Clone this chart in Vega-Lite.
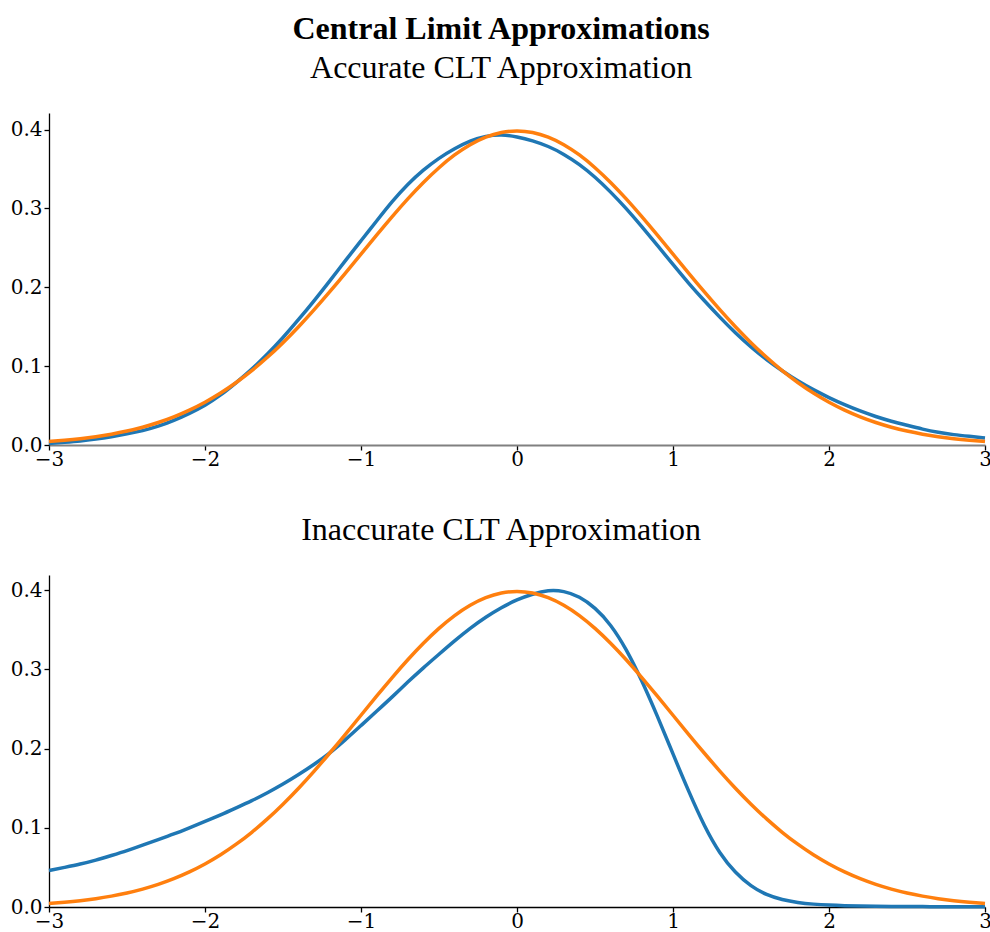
{
  "$schema": "https://vega.github.io/schema/vega-lite/v6.json",
  "background": "white",
  "padding": {"left": 10, "top": 13, "right": 0, "bottom": 0},
  "title": {"text": "Central Limit Approximations", "font": "Liberation Serif", "fontSize": 32, "fontWeight": "bold", "color": "black", "anchor": "middle", "baseline": "alphabetic", "offset": -19},
  "spacing": 45,
  "config": {
    "view": {"stroke": null},
    "axis": {"labelFont": "DejaVu Serif", "labelFontSize": 20, "labelColor": "black", "domainColor": "black", "tickColor": "black", "grid": false, "tickSize": 5, "labelPadding": 2, "domainWidth": 1.3, "tickWidth": 1.3, "labelFlush": false, "labelOverlap": false},
    "axisX": {"labelPadding": -1},
    "title": {"font": "Liberation Serif", "fontSize": 32, "fontWeight": "normal", "color": "black", "baseline": "alphabetic", "offset": 28, "anchor": "middle", "frame": "bounds"}
  },
  "datasets": {
    "top": [
      {"x": -3.0, "s": "approx", "y": 0.002}, {"x": -2.9, "s": "approx", "y": 0.0035}, {"x": -2.8, "s": "approx", "y": 0.005}, {"x": -2.7, "s": "approx", "y": 0.0075}, {"x": -2.6, "s": "approx", "y": 0.0105},
      {"x": -2.5, "s": "approx", "y": 0.014}, {"x": -2.4, "s": "approx", "y": 0.018}, {"x": -2.3, "s": "approx", "y": 0.0235}, {"x": -2.2, "s": "approx", "y": 0.031}, {"x": -2.1, "s": "approx", "y": 0.040},
      {"x": -2.0, "s": "approx", "y": 0.050}, {"x": -1.9, "s": "approx", "y": 0.063}, {"x": -1.8, "s": "approx", "y": 0.079}, {"x": -1.7, "s": "approx", "y": 0.096}, {"x": -1.6, "s": "approx", "y": 0.115},
      {"x": -1.5, "s": "approx", "y": 0.136}, {"x": -1.4, "s": "approx", "y": 0.159}, {"x": -1.3, "s": "approx", "y": 0.183}, {"x": -1.2, "s": "approx", "y": 0.208}, {"x": -1.1, "s": "approx", "y": 0.234},
      {"x": -1.0, "s": "approx", "y": 0.259}, {"x": -0.9, "s": "approx", "y": 0.284}, {"x": -0.8, "s": "approx", "y": 0.309}, {"x": -0.7, "s": "approx", "y": 0.331}, {"x": -0.6, "s": "approx", "y": 0.349},
      {"x": -0.5, "s": "approx", "y": 0.364}, {"x": -0.4, "s": "approx", "y": 0.376}, {"x": -0.3, "s": "approx", "y": 0.386}, {"x": -0.2, "s": "approx", "y": 0.392}, {"x": -0.1, "s": "approx", "y": 0.394},
      {"x": 0.0, "s": "approx", "y": 0.391}, {"x": 0.1, "s": "approx", "y": 0.386}, {"x": 0.2, "s": "approx", "y": 0.379}, {"x": 0.3, "s": "approx", "y": 0.369}, {"x": 0.4, "s": "approx", "y": 0.356},
      {"x": 0.5, "s": "approx", "y": 0.340}, {"x": 0.6, "s": "approx", "y": 0.321}, {"x": 0.7, "s": "approx", "y": 0.300}, {"x": 0.8, "s": "approx", "y": 0.277}, {"x": 0.9, "s": "approx", "y": 0.253},
      {"x": 1.0, "s": "approx", "y": 0.229}, {"x": 1.1, "s": "approx", "y": 0.205}, {"x": 1.2, "s": "approx", "y": 0.183}, {"x": 1.3, "s": "approx", "y": 0.162}, {"x": 1.4, "s": "approx", "y": 0.142},
      {"x": 1.5, "s": "approx", "y": 0.124}, {"x": 1.6, "s": "approx", "y": 0.108}, {"x": 1.7, "s": "approx", "y": 0.094}, {"x": 1.8, "s": "approx", "y": 0.081}, {"x": 1.9, "s": "approx", "y": 0.070},
      {"x": 2.0, "s": "approx", "y": 0.060}, {"x": 2.1, "s": "approx", "y": 0.051}, {"x": 2.2, "s": "approx", "y": 0.043}, {"x": 2.3, "s": "approx", "y": 0.036}, {"x": 2.4, "s": "approx", "y": 0.030},
      {"x": 2.5, "s": "approx", "y": 0.025}, {"x": 2.6, "s": "approx", "y": 0.020}, {"x": 2.7, "s": "approx", "y": 0.016}, {"x": 2.8, "s": "approx", "y": 0.013}, {"x": 2.9, "s": "approx", "y": 0.011},
      {"x": 3.0, "s": "approx", "y": 0.009},
      {"x": -3.0, "s": "normal", "y": 0.0044}, {"x": -2.9, "s": "normal", "y": 0.0060}, {"x": -2.8, "s": "normal", "y": 0.0079}, {"x": -2.7, "s": "normal", "y": 0.0104}, {"x": -2.6, "s": "normal", "y": 0.0136},
      {"x": -2.5, "s": "normal", "y": 0.0175}, {"x": -2.4, "s": "normal", "y": 0.0224}, {"x": -2.3, "s": "normal", "y": 0.0283}, {"x": -2.2, "s": "normal", "y": 0.0355}, {"x": -2.1, "s": "normal", "y": 0.0440},
      {"x": -2.0, "s": "normal", "y": 0.0540}, {"x": -1.9, "s": "normal", "y": 0.0656}, {"x": -1.8, "s": "normal", "y": 0.0790}, {"x": -1.7, "s": "normal", "y": 0.0940}, {"x": -1.6, "s": "normal", "y": 0.1109},
      {"x": -1.5, "s": "normal", "y": 0.1295}, {"x": -1.4, "s": "normal", "y": 0.1497}, {"x": -1.3, "s": "normal", "y": 0.1714}, {"x": -1.2, "s": "normal", "y": 0.1942}, {"x": -1.1, "s": "normal", "y": 0.2179},
      {"x": -1.0, "s": "normal", "y": 0.2420}, {"x": -0.9, "s": "normal", "y": 0.2661}, {"x": -0.8, "s": "normal", "y": 0.2897}, {"x": -0.7, "s": "normal", "y": 0.3123}, {"x": -0.6, "s": "normal", "y": 0.3332},
      {"x": -0.5, "s": "normal", "y": 0.3521}, {"x": -0.4, "s": "normal", "y": 0.3683}, {"x": -0.3, "s": "normal", "y": 0.3814}, {"x": -0.2, "s": "normal", "y": 0.3910}, {"x": -0.1, "s": "normal", "y": 0.3970},
      {"x": 0.0, "s": "normal", "y": 0.3989}, {"x": 0.1, "s": "normal", "y": 0.3970}, {"x": 0.2, "s": "normal", "y": 0.3910}, {"x": 0.3, "s": "normal", "y": 0.3814}, {"x": 0.4, "s": "normal", "y": 0.3683},
      {"x": 0.5, "s": "normal", "y": 0.3521}, {"x": 0.6, "s": "normal", "y": 0.3332}, {"x": 0.7, "s": "normal", "y": 0.3123}, {"x": 0.8, "s": "normal", "y": 0.2897}, {"x": 0.9, "s": "normal", "y": 0.2661},
      {"x": 1.0, "s": "normal", "y": 0.2420}, {"x": 1.1, "s": "normal", "y": 0.2179}, {"x": 1.2, "s": "normal", "y": 0.1942}, {"x": 1.3, "s": "normal", "y": 0.1714}, {"x": 1.4, "s": "normal", "y": 0.1497},
      {"x": 1.5, "s": "normal", "y": 0.1295}, {"x": 1.6, "s": "normal", "y": 0.1109}, {"x": 1.7, "s": "normal", "y": 0.0940}, {"x": 1.8, "s": "normal", "y": 0.0790}, {"x": 1.9, "s": "normal", "y": 0.0656},
      {"x": 2.0, "s": "normal", "y": 0.0540}, {"x": 2.1, "s": "normal", "y": 0.0440}, {"x": 2.2, "s": "normal", "y": 0.0355}, {"x": 2.3, "s": "normal", "y": 0.0283}, {"x": 2.4, "s": "normal", "y": 0.0224},
      {"x": 2.5, "s": "normal", "y": 0.0175}, {"x": 2.6, "s": "normal", "y": 0.0136}, {"x": 2.7, "s": "normal", "y": 0.0104}, {"x": 2.8, "s": "normal", "y": 0.0079}, {"x": 2.9, "s": "normal", "y": 0.0060},
      {"x": 3.0, "s": "normal", "y": 0.0044}
    ],
    "bottom": [
      {"x": -3.0, "s": "approx", "y": 0.046}, {"x": -2.9, "s": "approx", "y": 0.050}, {"x": -2.8, "s": "approx", "y": 0.054}, {"x": -2.7, "s": "approx", "y": 0.059}, {"x": -2.6, "s": "approx", "y": 0.065},
      {"x": -2.5, "s": "approx", "y": 0.071}, {"x": -2.4, "s": "approx", "y": 0.078}, {"x": -2.3, "s": "approx", "y": 0.085}, {"x": -2.2, "s": "approx", "y": 0.092}, {"x": -2.1, "s": "approx", "y": 0.100},
      {"x": -2.0, "s": "approx", "y": 0.108}, {"x": -1.9, "s": "approx", "y": 0.116}, {"x": -1.8, "s": "approx", "y": 0.125}, {"x": -1.7, "s": "approx", "y": 0.134}, {"x": -1.6, "s": "approx", "y": 0.144},
      {"x": -1.5, "s": "approx", "y": 0.155}, {"x": -1.4, "s": "approx", "y": 0.167}, {"x": -1.3, "s": "approx", "y": 0.180}, {"x": -1.2, "s": "approx", "y": 0.194}, {"x": -1.1, "s": "approx", "y": 0.211},
      {"x": -1.0, "s": "approx", "y": 0.229}, {"x": -0.9, "s": "approx", "y": 0.247}, {"x": -0.8, "s": "approx", "y": 0.265}, {"x": -0.7, "s": "approx", "y": 0.284}, {"x": -0.6, "s": "approx", "y": 0.302},
      {"x": -0.5, "s": "approx", "y": 0.319}, {"x": -0.4, "s": "approx", "y": 0.336}, {"x": -0.3, "s": "approx", "y": 0.352}, {"x": -0.2, "s": "approx", "y": 0.366}, {"x": -0.1, "s": "approx", "y": 0.378},
      {"x": 0.0, "s": "approx", "y": 0.388}, {"x": 0.1, "s": "approx", "y": 0.395}, {"x": 0.2, "s": "approx", "y": 0.400}, {"x": 0.3, "s": "approx", "y": 0.399}, {"x": 0.4, "s": "approx", "y": 0.392},
      {"x": 0.5, "s": "approx", "y": 0.378}, {"x": 0.6, "s": "approx", "y": 0.357}, {"x": 0.7, "s": "approx", "y": 0.326}, {"x": 0.8, "s": "approx", "y": 0.286}, {"x": 0.9, "s": "approx", "y": 0.241},
      {"x": 1.0, "s": "approx", "y": 0.193}, {"x": 1.1, "s": "approx", "y": 0.146}, {"x": 1.2, "s": "approx", "y": 0.102}, {"x": 1.3, "s": "approx", "y": 0.067}, {"x": 1.4, "s": "approx", "y": 0.043},
      {"x": 1.5, "s": "approx", "y": 0.026}, {"x": 1.6, "s": "approx", "y": 0.015}, {"x": 1.7, "s": "approx", "y": 0.009}, {"x": 1.8, "s": "approx", "y": 0.0055}, {"x": 1.9, "s": "approx", "y": 0.0035},
      {"x": 2.0, "s": "approx", "y": 0.0023}, {"x": 2.1, "s": "approx", "y": 0.0016}, {"x": 2.2, "s": "approx", "y": 0.0012}, {"x": 2.3, "s": "approx", "y": 0.0009}, {"x": 2.4, "s": "approx", "y": 0.0007},
      {"x": 2.5, "s": "approx", "y": 0.0006}, {"x": 2.6, "s": "approx", "y": 0.0005}, {"x": 2.7, "s": "approx", "y": 0.0004}, {"x": 2.8, "s": "approx", "y": 0.0003}, {"x": 2.9, "s": "approx", "y": 0.0003},
      {"x": 3.0, "s": "approx", "y": 0.0002},
      {"x": -3.0, "s": "normal", "y": 0.0044}, {"x": -2.9, "s": "normal", "y": 0.0060}, {"x": -2.8, "s": "normal", "y": 0.0079}, {"x": -2.7, "s": "normal", "y": 0.0104}, {"x": -2.6, "s": "normal", "y": 0.0136},
      {"x": -2.5, "s": "normal", "y": 0.0175}, {"x": -2.4, "s": "normal", "y": 0.0224}, {"x": -2.3, "s": "normal", "y": 0.0283}, {"x": -2.2, "s": "normal", "y": 0.0355}, {"x": -2.1, "s": "normal", "y": 0.0440},
      {"x": -2.0, "s": "normal", "y": 0.0540}, {"x": -1.9, "s": "normal", "y": 0.0656}, {"x": -1.8, "s": "normal", "y": 0.0790}, {"x": -1.7, "s": "normal", "y": 0.0940}, {"x": -1.6, "s": "normal", "y": 0.1109},
      {"x": -1.5, "s": "normal", "y": 0.1295}, {"x": -1.4, "s": "normal", "y": 0.1497}, {"x": -1.3, "s": "normal", "y": 0.1714}, {"x": -1.2, "s": "normal", "y": 0.1942}, {"x": -1.1, "s": "normal", "y": 0.2179},
      {"x": -1.0, "s": "normal", "y": 0.2420}, {"x": -0.9, "s": "normal", "y": 0.2661}, {"x": -0.8, "s": "normal", "y": 0.2897}, {"x": -0.7, "s": "normal", "y": 0.3123}, {"x": -0.6, "s": "normal", "y": 0.3332},
      {"x": -0.5, "s": "normal", "y": 0.3521}, {"x": -0.4, "s": "normal", "y": 0.3683}, {"x": -0.3, "s": "normal", "y": 0.3814}, {"x": -0.2, "s": "normal", "y": 0.3910}, {"x": -0.1, "s": "normal", "y": 0.3970},
      {"x": 0.0, "s": "normal", "y": 0.3989}, {"x": 0.1, "s": "normal", "y": 0.3970}, {"x": 0.2, "s": "normal", "y": 0.3910}, {"x": 0.3, "s": "normal", "y": 0.3814}, {"x": 0.4, "s": "normal", "y": 0.3683},
      {"x": 0.5, "s": "normal", "y": 0.3521}, {"x": 0.6, "s": "normal", "y": 0.3332}, {"x": 0.7, "s": "normal", "y": 0.3123}, {"x": 0.8, "s": "normal", "y": 0.2897}, {"x": 0.9, "s": "normal", "y": 0.2661},
      {"x": 1.0, "s": "normal", "y": 0.2420}, {"x": 1.1, "s": "normal", "y": 0.2179}, {"x": 1.2, "s": "normal", "y": 0.1942}, {"x": 1.3, "s": "normal", "y": 0.1714}, {"x": 1.4, "s": "normal", "y": 0.1497},
      {"x": 1.5, "s": "normal", "y": 0.1295}, {"x": 1.6, "s": "normal", "y": 0.1109}, {"x": 1.7, "s": "normal", "y": 0.0940}, {"x": 1.8, "s": "normal", "y": 0.0790}, {"x": 1.9, "s": "normal", "y": 0.0656},
      {"x": 2.0, "s": "normal", "y": 0.0540}, {"x": 2.1, "s": "normal", "y": 0.0440}, {"x": 2.2, "s": "normal", "y": 0.0355}, {"x": 2.3, "s": "normal", "y": 0.0283}, {"x": 2.4, "s": "normal", "y": 0.0224},
      {"x": 2.5, "s": "normal", "y": 0.0175}, {"x": 2.6, "s": "normal", "y": 0.0136}, {"x": 2.7, "s": "normal", "y": 0.0104}, {"x": 2.8, "s": "normal", "y": 0.0079}, {"x": 2.9, "s": "normal", "y": 0.0060},
      {"x": 3.0, "s": "normal", "y": 0.0044}
    ]
  },
  "vconcat": [
    {
      "title": "Accurate CLT Approximation",
      "width": 936,
      "height": 332,
      "data": {"name": "top"},
      "mark": {"type": "line", "strokeWidth": 3.5, "interpolate": "basis"},
      "encoding": {
        "x": {"field": "x", "type": "quantitative", "scale": {"domain": [-3, 3], "nice": false}, "axis": {"values": [-3, -2, -1, 0, 1, 2, 3], "format": "d", "title": null, "domainColor": "#808080", "domainWidth": 2}},
        "y": {"field": "y", "type": "quantitative", "scale": {"domain": [0, 0.421], "nice": false}, "axis": {"values": [0, 0.1, 0.2, 0.3, 0.4], "format": ".1f", "title": null}},
        "color": {"field": "s", "type": "nominal", "scale": {"domain": ["approx", "normal"], "range": ["#1f77b4", "#ff7f0e"]}, "legend": null}
      }
    },
    {
      "title": "Inaccurate CLT Approximation",
      "width": 936,
      "height": 332,
      "data": {"name": "bottom"},
      "mark": {"type": "line", "strokeWidth": 3.5, "interpolate": "basis"},
      "encoding": {
        "x": {"field": "x", "type": "quantitative", "scale": {"domain": [-3, 3], "nice": false}, "axis": {"values": [-3, -2, -1, 0, 1, 2, 3], "format": "d", "title": null}},
        "y": {"field": "y", "type": "quantitative", "scale": {"domain": [0, 0.419], "nice": false}, "axis": {"values": [0, 0.1, 0.2, 0.3, 0.4], "format": ".1f", "title": null}},
        "color": {"field": "s", "type": "nominal", "scale": {"domain": ["approx", "normal"], "range": ["#1f77b4", "#ff7f0e"]}, "legend": null}
      }
    }
  ]
}
